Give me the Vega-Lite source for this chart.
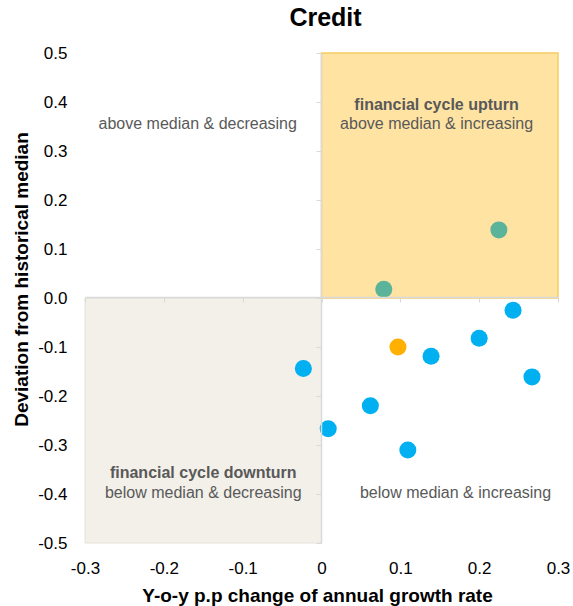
{
  "$schema": "https://vega.github.io/schema/vega-lite/v6.json",
  "width": 473,
  "height": 490,
  "autosize": {"type": "none"},
  "padding": {"left": 85, "top": 53, "right": 15, "bottom": 63},
  "background": "white",
  "config": {
    "view": {"stroke": null},
    "font": "Liberation Sans"
  },
  "title": {
    "text": "Credit",
    "fontSize": 25,
    "fontWeight": "bold",
    "color": "#000000",
    "anchor": "middle",
    "frame": "group",
    "baseline": "alphabetic",
    "offset": 17,
    "dx": 4,
    "dy": 24,
    "font": "Liberation Sans"
  },
  "layer": [
    {
      "data": {"values": [{"x": 0, "x2": 0.3, "y": 0, "y2": 0.5}]},
      "mark": {"type": "rect", "fill": "#FFE3A3", "stroke": "#F8CB62", "strokeWidth": 1.5},
      "encoding": {
        "x": {"field": "x", "type": "quantitative", "scale": {"domain": [-0.3, 0.3], "nice": false, "zero": false},
          "axis": {
            "title": "Y-o-y p.p change of annual growth rate",
            "values": [-0.3, -0.2, -0.1, 0, 0.1, 0.2, 0.3],
            "labelExpr": "datum.value == 0 ? '0' : replace(format(datum.value, '.1f'), '\u2212', '-')",
            "grid": false,
            "offset": -246,
            "domainColor": "#D9D9D9",
            "domainWidth": 1.5,
            "tickColor": "#D9D9D9",
            "tickSize": 5,
            "labelPadding": 258,
            "labelBaseline": "top",
            "labelFlush": false,
            "labelOverlap": false,
            "labelFontSize": 17,
            "labelColor": "#000000",
            "labelFont": "Liberation Sans",
            "titleFont": "Liberation Sans",
            "titleFontSize": 19,
            "titleFontWeight": "bold",
            "titleColor": "#000000",
            "titleBaseline": "alphabetic",
            "titleY": 304,
            "titleX": 232,
            "zindex": 1
          }},
        "x2": {"field": "x2"},
        "y": {"field": "y", "type": "quantitative", "scale": {"domain": [-0.5, 0.5], "nice": false, "zero": false},
          "axis": {
            "title": "Deviation from historical median",
            "values": [-0.5, -0.4, -0.3, -0.2, -0.1, 0, 0.1, 0.2, 0.3, 0.4, 0.5],
            "labelExpr": "replace(format(datum.value, '.1f'), '\u2212', '-')",
            "grid": false,
            "offset": -236,
            "domainColor": "#D9D9D9",
            "domainWidth": 1.5,
            "tickColor": "#D9D9D9",
            "tickSize": 5,
            "labelPadding": 249,
            "labelFlush": false,
            "labelOverlap": false,
            "labelFontSize": 17,
            "labelColor": "#000000",
            "labelFont": "Liberation Sans",
            "titleFont": "Liberation Sans",
            "titleFontSize": 19,
            "titleFontWeight": "bold",
            "titleColor": "#000000",
            "titleBaseline": "alphabetic",
            "titleX": -294,
            "titleY": 226,
            "zindex": 1
          }},
        "y2": {"field": "y2"}
      }
    },
    {
      "data": {"values": [{"x": -0.3, "x2": 0, "y": -0.5, "y2": 0}]},
      "mark": {"type": "rect", "fill": "#F3F0EA", "stroke": "#E6E2DA", "strokeWidth": 1},
      "encoding": {
        "x": {"field": "x", "type": "quantitative"},
        "x2": {"field": "x2"},
        "y": {"field": "y", "type": "quantitative"},
        "y2": {"field": "y2"}
      }
    },
    {
      "data": {"values": [
        {"x": 0.225, "y": 0.139, "group": "upturn"},
        {"x": 0.079, "y": 0.018, "group": "upturn"},
        {"x": 0.243, "y": -0.025, "group": "other"},
        {"x": 0.2, "y": -0.082, "group": "other"},
        {"x": 0.097, "y": -0.1, "group": "highlight"},
        {"x": 0.139, "y": -0.119, "group": "other"},
        {"x": -0.023, "y": -0.144, "group": "other"},
        {"x": 0.267, "y": -0.161, "group": "other"},
        {"x": 0.062, "y": -0.22, "group": "other"},
        {"x": 0.0085, "y": -0.267, "group": "other"},
        {"x": 0.1095, "y": -0.31, "group": "other"}
      ]},
      "mark": {"type": "circle", "size": 290, "opacity": 1},
      "encoding": {
        "x": {"field": "x", "type": "quantitative"},
        "y": {"field": "y", "type": "quantitative"},
        "color": {"field": "group", "type": "nominal",
          "scale": {"domain": ["upturn", "highlight", "other"], "range": ["#5BB39A", "#FFB000", "#00B0F0"]},
          "legend": null}
      }
    },
    {
      "data": {"values": [
        {"x": 0.146, "y": 0.394, "label": "financial cycle upturn"},
        {"x": -0.15, "y": -0.357, "label": "financial cycle downturn"}
      ]},
      "mark": {"type": "text", "fontSize": 16, "fontWeight": "bold", "color": "#595959", "font": "Liberation Sans", "baseline": "middle", "align": "center"},
      "encoding": {
        "x": {"field": "x", "type": "quantitative"},
        "y": {"field": "y", "type": "quantitative"},
        "text": {"field": "label"}
      }
    },
    {
      "data": {"values": [
        {"x": -0.157, "y": 0.355, "label": "above median & decreasing"},
        {"x": 0.146, "y": 0.355, "label": "above median & increasing"},
        {"x": -0.15, "y": -0.398, "label": "below median & decreasing"},
        {"x": 0.17, "y": -0.398, "label": "below median & increasing"}
      ]},
      "mark": {"type": "text", "fontSize": 16, "color": "#595959", "font": "Liberation Sans", "baseline": "middle", "align": "center"},
      "encoding": {
        "x": {"field": "x", "type": "quantitative"},
        "y": {"field": "y", "type": "quantitative"},
        "text": {"field": "label"}
      }
    }
  ]
}
